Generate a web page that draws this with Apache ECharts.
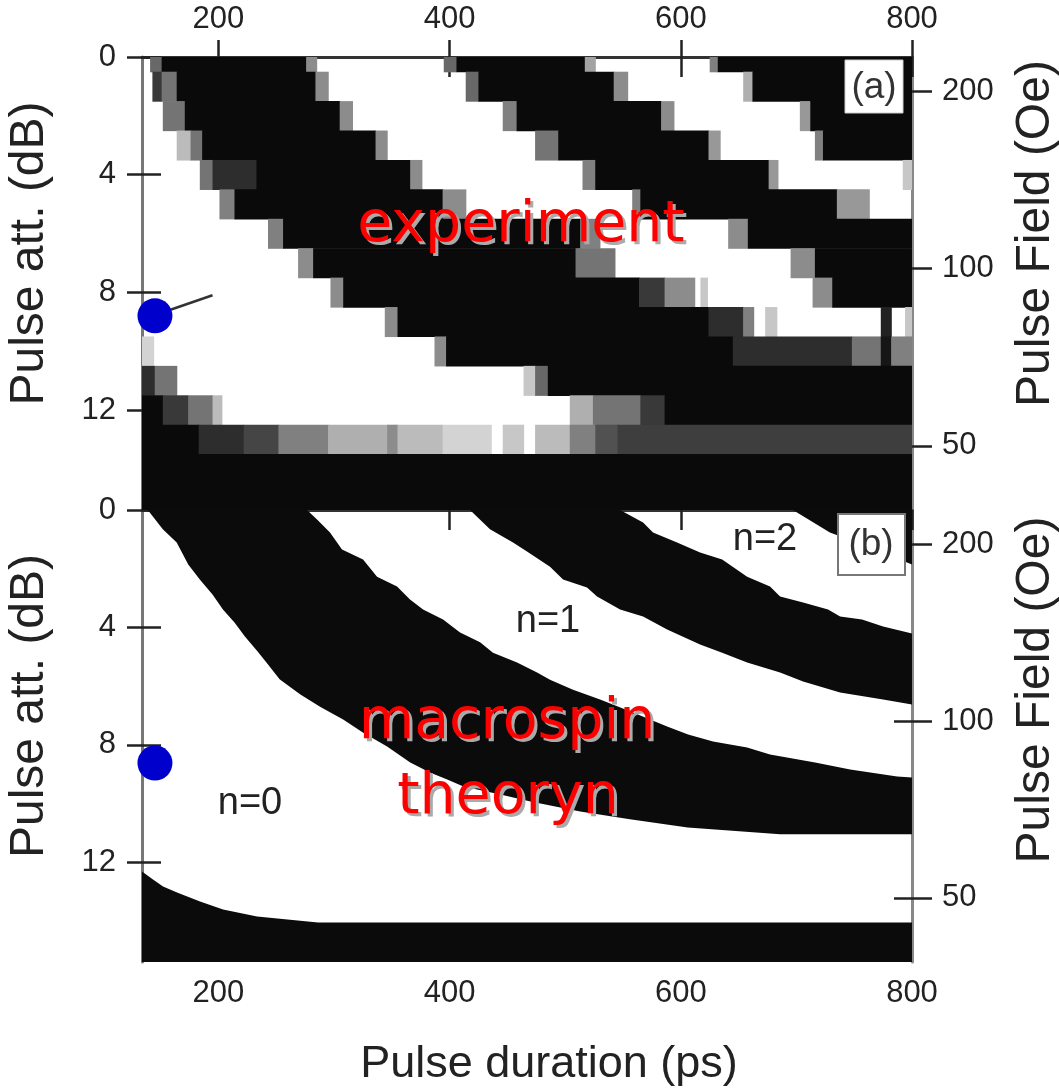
<!DOCTYPE html>
<html><head><meta charset="utf-8">
<script src="https://cdn.jsdelivr.net/npm/echarts@6/dist/echarts.min.js"></script>
<style>html,body{margin:0;padding:0;background:#fff}#c{width:1059px;height:1090px}</style>
</head><body><div id="c"></div>
<script>
// ---------- axes ----------
const xTicks = [200, 400, 600, 800];          // pulse duration (ps)
const attTicks = [0, 4, 8, 12];               // pulse attenuation (dB)
const fieldTicks = [200, 100, 50];            // pulse field (Oe), right axis
const fieldAt0dB = 229;                       // field at 0 dB attenuation
const xRange = [134, 800];
const attRange = [0, 15.4];

// ---------- (a) experiment: one list per 1-dB row, segments [startPs, endPs, darkness] ----------
const row0  = [[141,151,0.6],[151,276,1],[276,285,0.45],[395,406,0.6],[406,517,1],[517,526,0.35],[625,632,0.5],[632,800,1]];
const row1  = [[143,151,0.8],[151,164,0.55],[164,284,1],[284,295,0.45],[414,425,0.6],[425,542,1],[542,554,0.45],[654,662,0.3],[662,800,1]];
const row2  = [[152,171,0.55],[171,305,1],[305,316,0.45],[446,458,0.5],[458,583,1],[583,594,0.45],[703,712,0.4],[712,800,1]];
const row3  = [[164,176,0.25],[176,186,0.55],[186,336,1],[336,346,0.45],[474,494,0.55],[494,624,1],[624,634,0.4],[716,723,0.5],[723,800,1]];
const row4  = [[184,195,0.55],[195,233,0.85],[233,366,1],[366,376,0.45],[515,526,0.5],[526,676,1],[676,684,0.4],[792,800,0.2]];
const row5  = [[201,214,0.5],[214,394,1],[394,414,0.45],[558,565,0.5],[565,735,1],[735,763,0.4]];
const row6  = [[243,256,0.5],[256,513,1],[513,530,0.5],[641,658,0.45],[658,800,1]];
const row7  = [[269,282,0.45],[282,509,1],[509,543,0.55],[695,716,0.45],[716,800,1]];
const row8  = [[297,308,0.45],[308,564,1],[564,586,0.8],[586,612,0.45],[617,623,0.2],[714,731,0.45],[731,800,1]];
const row9  = [[344,355,0.45],[355,624,1],[624,654,0.85],[654,663,0.5],[673,683,0.2],[773,782,0.9],[794,800,0.2]];
const row10 = [[134,144,0.15],[387,397,0.45],[397,645,1],[645,748,0.85],[748,773,0.55],[773,782,0.95],[782,800,0.5]];
const row11 = [[134,145,0.85],[145,164,0.55],[464,474,0.2],[474,485,0.6],[485,800,1]];
const row12 = [[134,152,1],[152,174,0.8],[174,195,0.55],[195,203,0.25],[504,524,0.3],[524,565,0.55],[565,586,0.8],[586,800,1]];
const row13 = [[134,183,1],[183,222,0.85],[222,252,0.75],[252,295,0.5],[295,346,0.3],[346,355,0.45],[355,394,0.25],[394,436,0.15],[446,464,0.2],[474,504,0.25],[504,526,0.5],[526,545,0.7],[545,800,0.78]];
const row14 = [[134,800,1]];
const row15 = [[134,800,1]];
const expRows = [row0,row1,row2,row3,row4,row5,row6,row7,row8,row9,row10,row11,row12,row13,row14,row15];

// ---------- (b) macrospin theory: band edges [ps, dB] ----------
const band1Upper = [[276.7,0],[285.4,0.32],[296.6,0.77],[307,1.35],[325.2,1.69],[337.3,2.27],[354.6,2.61],[365.8,3.05],[377.1,3.39],[394.4,3.73],[409.1,4.17],[426.4,4.51],[437.6,4.86],[458.4,5.2],[475.7,5.54],[486.9,5.78],[506.8,6.12],[530.2,6.46],[558.7,6.9],[588.2,7.38],[606.3,7.65],[627.9,7.89],[657.4,8.09],[677.2,8.33],[716.2,8.6],[746.5,8.84],[787.1,9.08],[800,9.11]];
const band1Lower = [[139,0],[152,0.66],[164,1.11],[174,1.86],[184,2.37],[195,2.88],[204,3.39],[214,3.83],[223,4.31],[234,4.82],[243,5.26],[253,5.77],[271,6.29],[288,6.7],[308,7.14],[325,7.58],[346,8.06],[366,8.6],[383,8.94],[398,9.18],[412,9.42],[444,9.69],[470,9.93],[513,10.27],[556,10.54],[606,10.82],[686,11.05],[800,11.05]];
const band2Upper = [[547.5,0],[567.4,0.43],[576,0.77],[596.8,1.11],[616.7,1.45],[635.8,1.69],[657.4,2.27],[677.2,2.61],[685.9,2.95],[705.8,3.15],[727.4,3.39],[737.8,3.63],[756.8,3.73],[775,3.97],[800,4.21]];
const band2Lower = [[417.7,0],[435,0.66],[454.9,1.11],[467,1.41],[486.9,1.93],[498.2,2.37],[518.9,2.64],[527.6,2.95],[547.5,3.39],[567.4,3.63],[588.2,4.07],[616.7,4.58],[635.8,4.86],[657.4,5.2],[685.9,5.54],[705.8,5.84],[737.8,6.22],[775,6.46],[800,6.63]];
const band3Lower = [[697,0],[729,0.77],[764,1.28],[800,1.86]];
const bottomTop  = [[134,12.32],[143.5,12.59],[152.2,12.83],[164.3,13.03],[184.2,13.34],[204.1,13.61],[233.5,13.85],[286.2,14.05],[800,14.05]];

// ---------- markers ----------
const dotA = [[145.2, 8.8]];
const dotB = [[145.2, 8.62]];
const pointerA = [[158, 8.6], [195, 8.1]];

// ---------- build ----------
const expCells = [];
expRows.forEach((segs, r) => segs.forEach(s => expCells.push([s[0], s[1], r, s[2]])));
const theoryPolys = [
  band1Upper.concat(band1Lower.slice().reverse()),
  band2Upper.concat(band2Lower.slice().reverse()),
  band3Lower.concat([[xRange[1], attRange[0]]]),
  bottomTop.concat([[xRange[1], attRange[1]], [xRange[0], attRange[1]]])
];
const fieldDb = fieldTicks.map(f => 20 * Math.log10(fieldAt0dB / f));
const gray = v => { const g = Math.round(246 - v * 236); return 'rgb(' + g + ',' + g + ',' + g + ')'; };

const FONT = "'Liberation Sans', Arial, sans-serif";
const LBL = { fontSize: 31, color: '#222', fontFamily: FONT };
const TICK = { color: '#222', width: 2.5 };

function xAx(grid, pos, o) {
  return Object.assign({
    gridIndex: grid, type: 'value', position: pos, min: xRange[0], max: xRange[1],
    axisLine: { show: false }, splitLine: { show: false },
    axisTick: { show: false }, axisLabel: { show: false }
  }, o);
}
function yAx(grid, pos, o) {
  return Object.assign({
    gridIndex: grid, type: 'value', position: pos, inverse: true, min: attRange[0], max: attRange[1],
    axisLine: { show: false }, splitLine: { show: false },
    axisTick: { show: false }, axisLabel: { show: false }
  }, o);
}

const xAxes = [
  xAx(0, 'top', { axisLine: { show: true, lineStyle: { color: '#333', width: 3 } },
    axisTick: { show: true, length: 17, customValues: xTicks, lineStyle: TICK },
    axisLabel: Object.assign({ show: true, margin: 22, customValues: xTicks }, LBL) }),
  xAx(0, 'top', { axisTick: { show: true, inside: true, length: 20, customValues: xTicks, lineStyle: TICK } }),
  xAx(1, 'top', { axisLine: { show: true, lineStyle: { color: '#888', width: 2 } },
    axisTick: { show: true, inside: true, length: 20, customValues: xTicks, lineStyle: TICK } }),
  xAx(1, 'bottom', { axisLine: { show: true, lineStyle: { color: '#333', width: 3 } },
    axisTick: { show: true, length: 10, customValues: xTicks, lineStyle: TICK },
    axisLabel: Object.assign({ show: true, margin: 16, customValues: xTicks }, LBL),
    name: 'Pulse duration (ps)', nameLocation: 'middle', nameGap: 80,
    nameTextStyle: { fontSize: 45, color: '#222', fontFamily: FONT, padding: [0, 0, 0, 44] } })
];

function leftPair(g) {
  return [
    yAx(g, 'left', { axisLine: { show: true, lineStyle: { color: '#777', width: 3 } },
      axisTick: { show: true, length: 15, customValues: attTicks, lineStyle: TICK },
      axisLabel: Object.assign({ show: true, margin: 26, customValues: attTicks }, LBL),
      name: 'Pulse att. (dB)', nameLocation: 'middle', nameGap: 88, nameRotate: 90,
      nameTextStyle: { fontSize: 48, color: '#222', fontFamily: FONT, padding: [0, 0, 0, 60] } }),
    yAx(g, 'left', { axisTick: { show: true, inside: true, length: 19, customValues: attTicks, lineStyle: TICK } })
  ];
}
function rightPair(g, shift) {
  return [
    yAx(g, 'right', { axisLine: { show: true, lineStyle: { color: '#888', width: 3 } },
      axisTick: { show: true, length: 20, customValues: fieldDb, lineStyle: TICK },
      axisLabel: Object.assign({ show: true, margin: 30, customValues: fieldDb,
        formatter: v => String(Math.round(fieldAt0dB * Math.pow(10, -v / 20))) }, LBL),
      name: 'Pulse Field (Oe)', nameLocation: 'middle', nameGap: 100, nameRotate: 90,
      nameTextStyle: { fontSize: 48, color: '#222', fontFamily: FONT, padding: [0, 0, 0, shift] } }),
    yAx(g, 'right', { axisTick: { show: true, inside: true, length: 18, customValues: fieldDb, lineStyle: TICK } })
  ];
}
const yAxes = [].concat(leftPair(0), rightPair(0, 100), leftPair(1), rightPair(1, 92));

const option = {
  animation: false,
  backgroundColor: '#fff',
  grid: [
    { left: 142, top: 57, width: 770, height: 453, outerBoundsMode: 'none', containLabel: false },
    { left: 142, top: 510, width: 770, height: 452, outerBoundsMode: 'none', containLabel: false }
  ],
  xAxis: xAxes,
  yAxis: yAxes,
  series: [
    { type: 'custom', name: 'experiment', xAxisIndex: 0, yAxisIndex: 0, clip: true, z: 1,
      dimensions: ['start', 'end', 'att', 'level'], encode: { x: [0, 1], y: 2 },
      data: expCells,
      renderItem: function (params, api) {
        const r = api.value(2);
        const a = api.coord([api.value(0), Math.max(attRange[0], r - 0.5)]);
        const b = api.coord([api.value(1), Math.min(attRange[1], r + 0.5)]);
        return { type: 'rect', shape: { x: a[0], y: a[1], width: b[0] - a[0] + 0.6, height: b[1] - a[1] + 0.6 },
          style: { fill: gray(api.value(3)) } };
      } },
    { type: 'custom', name: 'theory', xAxisIndex: 3, yAxisIndex: 4, clip: true, z: 1,
      data: theoryPolys.map((p, i) => [i]),
      renderItem: function (params, api) {
        const pts = theoryPolys[api.value(0)].map(p => api.coord(p));
        return { type: 'polygon', shape: { points: pts }, style: { fill: '#0b0b0b' } };
      } },
    { type: 'line', xAxisIndex: 0, yAxisIndex: 0, data: pointerA, symbol: 'none', z: 8,
      lineStyle: { color: '#333', width: 2.5 } },
    { type: 'scatter', xAxisIndex: 0, yAxisIndex: 0, data: dotA, symbolSize: 35, clip: false, z: 9,
      itemStyle: { color: '#0000cc', opacity: 1 } },
    { type: 'scatter', xAxisIndex: 3, yAxisIndex: 4, data: dotB, symbolSize: 35, clip: false, z: 9,
      itemStyle: { color: '#0000cc', opacity: 1 } }
  ],
  graphic: [
    { type: 'rect', shape: { x: 845, y: 60, width: 58, height: 53 }, style: { fill: '#fff', stroke: '#ccc', lineWidth: 1 }, z: 100 },
    { type: 'text', x: 874, y: 88, z: 101, style: { text: '(a)', fontSize: 37, fontFamily: FONT, fill: '#333', align: 'center', verticalAlign: 'middle' } },
    { type: 'rect', shape: { x: 838, y: 514, width: 67, height: 61 }, style: { fill: '#fff', stroke: '#777', lineWidth: 2 }, z: 100 },
    { type: 'text', x: 871, y: 545, z: 101, style: { text: '(b)', fontSize: 37, fontFamily: FONT, fill: '#333', align: 'center', verticalAlign: 'middle' } },
    { type: 'text', x: 250, y: 804, z: 101, style: { text: 'n=0', fontSize: 38, fontFamily: FONT, fill: '#222', align: 'center', verticalAlign: 'middle' } },
    { type: 'text', x: 548, y: 622, z: 101, style: { text: 'n=1', fontSize: 38, fontFamily: FONT, fill: '#222', align: 'center', verticalAlign: 'middle' } },
    { type: 'text', x: 765, y: 540, z: 101, style: { text: 'n=2', fontSize: 38, fontFamily: FONT, fill: '#222', align: 'center', verticalAlign: 'middle' } },
    { type: 'text', x: 524, y: 229, z: 101, style: { text: 'experiment', fontSize: 57, fontFamily: "'DejaVu Sans'", fill: '#aaa', align: 'center', verticalAlign: 'middle' } },
    { type: 'text', x: 521, y: 226, z: 102, style: { text: 'experiment', fontSize: 57, fontFamily: "'DejaVu Sans'", fill: '#ff0000', align: 'center', verticalAlign: 'middle' } },
    { type: 'text', x: 510, y: 726, z: 101, style: { text: 'macrospin', fontSize: 57, fontFamily: "'DejaVu Sans'", fill: '#aaa', align: 'center', verticalAlign: 'middle' } },
    { type: 'text', x: 507, y: 723, z: 102, style: { text: 'macrospin', fontSize: 57, fontFamily: "'DejaVu Sans'", fill: '#ff0000', align: 'center', verticalAlign: 'middle' } },
    { type: 'text', x: 511, y: 801, z: 101, style: { text: 'theoryn', fontSize: 57, fontFamily: "'DejaVu Sans'", fill: '#aaa', align: 'center', verticalAlign: 'middle' } },
    { type: 'text', x: 508, y: 798, z: 102, style: { text: 'theoryn', fontSize: 57, fontFamily: "'DejaVu Sans'", fill: '#ff0000', align: 'center', verticalAlign: 'middle' } }
  ]
};
const chart = echarts.init(document.getElementById('c'), null, { renderer: 'canvas' });
chart.setOption(option);
</script></body></html>
